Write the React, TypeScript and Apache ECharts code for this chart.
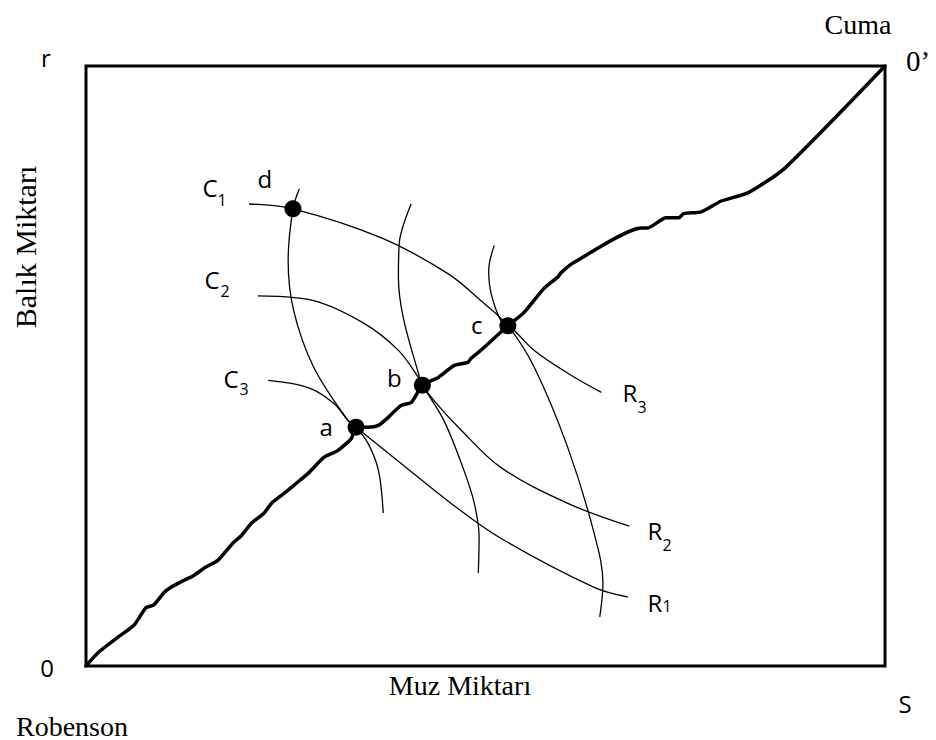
import React, { useEffect, useRef } from "react";
import * as echarts from "echarts";

// Edgeworth box: Robenson's origin bottom-left (0), Cuma's origin top-right (0').
// Axes run 0..100 in both directions.

// Contract curve (sözleşme eğrisi)
const contractX = [0, 1.5, 4.0, 6.0, 7.5, 8.5, 9.8, 10.6, 12.3, 13.5, 15.0, 16.5, 18.4, 19.5, 20.7, 22.3, 23.2, 25.3, 26.0, 27.8, 29.8, 31.5, 33.2, 33.8, 35.3, 36.6, 37.8, 39.4, 40.7, 42.1, 44.1, 46.1, 47.8, 48.2, 49.4, 52.8, 54.8, 57.3, 59.1, 59.5, 61.0, 69.5, 70.3, 72.6, 74.2, 74.8, 77.0, 79.5, 82.9, 87.4, 100];
const contractY = [0, 2.2, 4.8, 6.8, 9.7, 10.2, 12.3, 13.1, 14.3, 15.1, 16.5, 17.6, 20.5, 21.8, 23.8, 25.5, 27.1, 29.3, 30.1, 32.1, 34.8, 35.9, 37.9, 39.8, 39.8, 40.1, 41.4, 43.4, 43.9, 46.8, 48.1, 50.1, 50.6, 51.3, 52.6, 56.7, 58.9, 62.9, 64.9, 65.6, 67.2, 73.0, 73.0, 74.7, 74.7, 75.4, 75.7, 77.5, 78.9, 82.9, 100];

// Robenson's indifference curves
const r1X = [26.7, 25.9, 25.3, 26.0, 28.5, 32.8, 33.8, 39.4, 45.7, 51.9, 63.6, 67.8];
const r1Y = [79.5, 76.2, 67.6, 59.2, 49.8, 40.9, 39.8, 33.8, 27.1, 21.3, 13.1, 11.5];
const r2X = [40.7, 39.2, 39.1, 39.7, 41.6, 42.1, 44.1, 46.6, 51.9, 60.3, 68.0];
const r2Y = [77.0, 70.4, 64.7, 58.1, 48.8, 46.8, 43.4, 39.8, 33.1, 27.1, 23.3];
const r3X = [51.1, 50.4, 50.7, 51.9, 52.8, 53.6, 56.1, 60.3, 64.5];
const r3Y = [70.1, 65.9, 62.1, 57.6, 56.7, 55.9, 52.6, 48.8, 45.6];

// Cuma's indifference curves
const c1X = [20.4, 25.9, 36.9, 45.3, 49.4, 52.8, 56.1, 60.3, 63.6, 64.7, 64.3];
const c1Y = [77.0, 76.2, 71.4, 65.4, 60.9, 56.7, 49.8, 36.4, 22.1, 13.8, 8.2];
const c2X = [21.5, 28.5, 34.8, 39.1, 41.6, 42.1, 44.8, 47.3, 48.6, 49.2, 49.1];
const c2Y = [61.7, 60.9, 57.1, 52.6, 48.1, 46.8, 40.9, 32.6, 27.1, 21.5, 15.5];
const c3X = [22.8, 27.8, 31.0, 32.8, 33.8, 35.3, 36.6, 37.2];
const c3Y = [47.6, 46.4, 43.8, 40.9, 39.8, 37.1, 32.6, 25.5];

// Marked allocations
const pointNames = ["a", "b", "c", "d"];
const pointX = [33.8, 42.1, 52.8, 25.9];
const pointY = [39.8, 46.8, 56.7, 76.2];

const SANS = '"Open Sans", "Noto Sans", sans-serif';
const SERIF = '"Liberation Serif", "DejaVu Serif", serif';

const zip = (xs: number[], ys: number[]) => xs.map((x, i) => [x, ys[i]]);

// where each point's letter sits relative to its dot
const pointLabelOffset: Record<string, number[]> = {
  a: [-30, -1],
  b: [-28, -8],
  c: [-31, -1],
  d: [-28, -30],
};

function text(
  t: string,
  x: number,
  y: number,
  size: number,
  family: string,
  rotation = 0
) {
  return {
    type: "text",
    x,
    y,
    rotation,
    silent: true,
    style: {
      text: t,
      font: `${size}px ${family}`,
      fill: "#000",
      textAlign: "center",
      textVerticalAlign: "middle",
      align: "center",
      verticalAlign: "middle",
    },
  };
}

export default function App() {
  const ref = useRef<HTMLDivElement>(null);

  useEffect(() => {
    if (!ref.current) return;
    const chart = echarts.init(ref.current, undefined, { renderer: "svg" });

    const curve = (name: string, xs: number[], ys: number[]) => ({
      name,
      type: "line",
      data: zip(xs, ys),
      smooth: 0.35,
      symbol: "none",
      lineStyle: { color: "#000", width: 1.3 },
      z: 2,
    });

    chart.setOption({
      animation: false,
      backgroundColor: "#fff",
      grid: {
        left: 86,
        top: 66,
        width: 799,
        height: 600,
        show: true,
        borderColor: "#000",
        borderWidth: 3,
        backgroundColor: "transparent",
      },
      xAxis: { type: "value", min: 0, max: 100, show: false },
      yAxis: { type: "value", min: 0, max: 100, show: false },
      series: [
        curve("R1", r1X, r1Y),
        curve("R2", r2X, r2Y),
        curve("R3", r3X, r3Y),
        curve("C1", c1X, c1Y),
        curve("C2", c2X, c2Y),
        curve("C3", c3X, c3Y),
        {
          name: "contract",
          type: "line",
          data: zip(contractX, contractY),
          smooth: 0.2,
          symbol: "none",
          lineStyle: { color: "#000", width: 3.5, join: "round", cap: "round" },
          z: 3,
        },
        {
          name: "points",
          type: "scatter",
          symbol: "circle",
          symbolSize: 17,
          itemStyle: { color: "#000", opacity: 1 },
          z: 5,
          data: pointNames.map((n, i) => ({
            name: n,
            value: [pointX[i], pointY[i]],
            label: { offset: pointLabelOffset[n] },
          })),
          label: {
            show: true,
            position: "inside",
            formatter: "{b}",
            color: "#000",
            opacity: 1,
            fontSize: 24,
            fontFamily: SANS,
          },
        },
      ],
      graphic: {
        elements: [
          // corner and axis texts
          text("r", 46, 57, 24, SANS),
          text("0", 47, 667, 24, SANS),
          text("0\u2019", 918, 61, 29, SERIF),
          text("S", 905, 703, 24, SANS),
          text("Cuma", 858, 24, 28, SERIF),
          text("Robenson", 72, 726, 28, SERIF),
          text("Muz Miktar\u0131", 460, 685, 28, SERIF),
          text("Bal\u0131k Miktar\u0131", 25, 247, 30, SERIF, Math.PI / 2),
          // curve names
          text("C", 210, 187, 24, SANS),
          text("1", 222, 200, 16, SANS),
          text("C", 212, 279, 24, SANS),
          text("2", 225, 291, 16, SANS),
          text("C", 231, 378, 24, SANS),
          text("3", 244, 389, 16, SANS),
          text("R", 630, 392, 24, SANS),
          text("3", 642, 407, 16, SANS),
          text("R", 655, 530, 24, SANS),
          text("2", 667, 545, 16, SANS),
          text("R", 655, 602, 24, SANS),
          text("1", 667, 606, 16, SANS),
        ],
      },
    });

    return () => chart.dispose();
  }, []);

  return (
    <div
      ref={ref}
      style={{ position: "fixed", left: 0, top: 0, width: 936, height: 740 }}
    />
  );
}
